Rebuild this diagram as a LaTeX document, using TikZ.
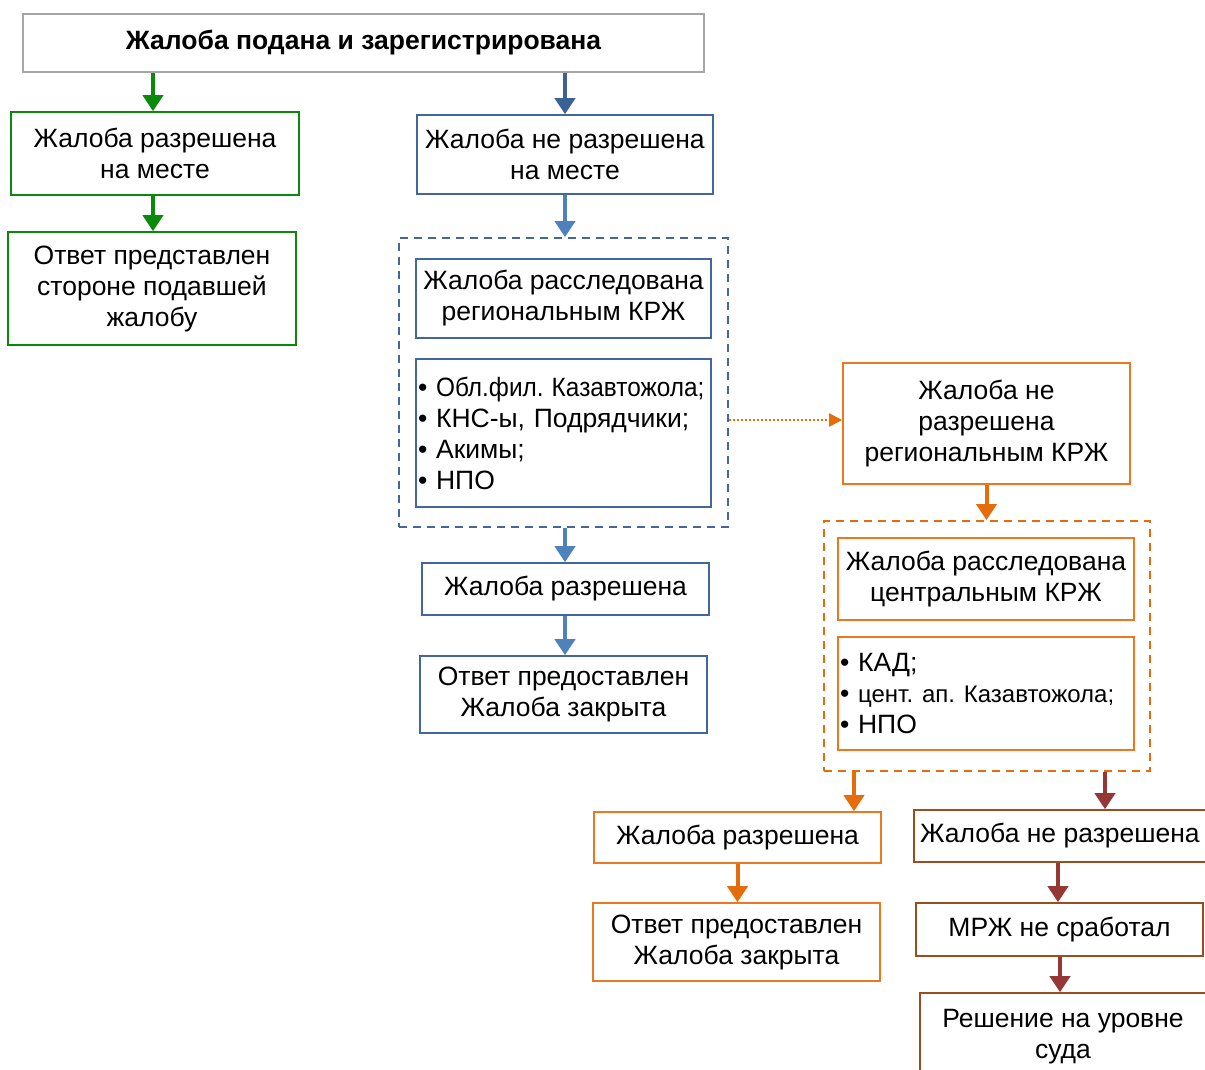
\documentclass[tikz,border=0pt]{standalone}
\usepackage{fontspec}
\usepackage{graphicx}
\setmainfont{Liberation Sans}
\usetikzlibrary{arrows.meta}
\frenchspacing
\definecolor{cgreen}{HTML}{0A8A0A}
\definecolor{cdblue}{HTML}{3C6195}
\definecolor{cblue}{HTML}{4F81BD}
\definecolor{cbborder}{HTML}{41679C}
\definecolor{corange}{HTML}{E46C0A}
\definecolor{coborder}{HTML}{EB7820}
\definecolor{cbrown}{HTML}{953735}
\definecolor{crborder}{HTML}{9A4E1E}
\definecolor{cgray}{HTML}{A6A6A6}
\tikzset{
  bx/.style={draw, line width=1.6pt, align=center, inner sep=0pt, text=black,
    font=\fontsize{26.5}{31}\selectfont\frenchspacing},
  gbox/.style={bx, draw=cgreen},
  bbox/.style={bx, draw=cbborder},
  obox/.style={bx, draw=coborder},
  rbox/.style={bx, draw=crborder},
  arr/.style={line width=4pt, -{Triangle[width=20pt,length=16pt]}},
  dbox/.style={draw, line width=1.8pt, dash pattern=on 8pt off 6pt, inner sep=0pt},
}
\begin{document}
\begin{tikzpicture}[x=1pt,y=-1pt]
\useasboundingbox (0,0) rectangle (1205,1070);
\clip (0,0) rectangle (1205,1070);
\fill[white] (0,0) rectangle (1205,1070);
% title
\node[bx, draw=cgray, minimum width=681pt, minimum height=58pt, font=\bfseries\fontsize{26.5}{31}\selectfont] (title) at (363.5,43) {Жалоба подана и зарегистрирована};
% green branch
\node[gbox, minimum width=288pt, minimum height=83pt] (g1) at (155,153.5) {Жалоба разрешена\\на месте};
\node[gbox, minimum width=288pt, minimum height=113pt] (g2) at (152,288.5) {Ответ представлен\\стороне подавшей\\жалобу};
% blue branch
\node[bbox, minimum width=296pt, minimum height=79pt] (b1) at (565,154.5) {Жалоба не разрешена\\на месте};
\node[dbox, draw=cbborder, minimum width=329pt, minimum height=289pt] (dashB) at (563.5,382.5) {};
\node[bbox, minimum width=295pt, minimum height=79pt] (b2) at (563.5,298.5) {Жалоба расследована\\региональным КРЖ};
\node[bbox, minimum width=295pt, minimum height=148pt, align=left, text width=291pt, inner xsep=2pt] (b3) at (563.5,433) {\mbox{\textbullet\ \scalebox{0.92}[1]{Обл.фил. Казавтожола;}}\\\mbox{\textbullet\ КНС-ы, Подрядчики;}\\\textbullet\ Акимы;\\\textbullet\ НПО};
\node[bbox, minimum width=287pt, minimum height=52pt] (b4) at (565.5,589) {Жалоба разрешена};
\node[bbox, minimum width=287pt, minimum height=77pt] (b5) at (563.5,694.5) {Ответ предоставлен\\Жалоба закрыта};
% orange branch
\node[obox, minimum width=287pt, minimum height=121pt] (o1) at (986.5,423.5) {Жалоба не\\разрешена\\региональным КРЖ};
\node[dbox, draw=corange, minimum width=326pt, minimum height=250pt] (dashO) at (987,646) {};
\node[obox, minimum width=296pt, minimum height=82pt] (o2) at (986,579) {Жалоба расследована\\центральным КРЖ};
\node[obox, minimum width=296pt, minimum height=113pt, align=left, text width=292pt, inner xsep=2pt] (o3) at (986,693.5) {\textbullet\ КАД;\\\mbox{\textbullet\ {\fontsize{24}{31}\selectfont цент. ап. Казавтожола;}}\\\textbullet\ НПО};
\node[obox, minimum width=287pt, minimum height=51pt] (o4) at (737.5,837.5) {Жалоба разрешена};
\node[obox, minimum width=287pt, minimum height=78pt] (o5) at (736.5,942) {Ответ предоставлен\\Жалоба закрыта};
% brown branch
\node[rbox, minimum width=292pt, minimum height=52pt] (r1) at (1060,836) {Жалоба не разрешена};
\node[rbox, minimum width=287pt, minimum height=53pt] (r2) at (1059.5,929.5) {МРЖ не сработал};
\node[rbox, minimum width=286pt, minimum height=87pt] (r3) at (1063,1036.5) {Решение на уровне\\суда};
% helper x positions
\coordinate (xg) at (153,0);
\coordinate (xb) at (565,0);
\coordinate (xo) at (854,0);
\coordinate (xr) at (1105,0);
\coordinate (xr2) at (1058,0);
\coordinate (xr3) at (1060,0);
% connectors
\draw[arr, cgreen] (title.south -| xg) -- (g1.north -| xg);
\draw[arr, cgreen] (g1.south -| xg) -- (g2.north -| xg);
\draw[arr, cdblue] (title.south -| xb) -- (b1.north -| xb);
\draw[arr, cblue] (b1.south -| xb) -- (dashB.north -| xb);
\draw[arr, cblue] (dashB.south -| xb) -- (b4.north -| xb);
\draw[arr, cblue] (b4.south -| xb) -- (b5.north -| xb);
\draw[line width=2pt, corange, dotted, -{Triangle[width=13pt,length=13pt]}] (dashB.east |- 0,420) -- (o1.west |- 0,420);
\draw[arr, corange] (o1.south) -- (dashO.north -| o1.south);
\draw[arr, corange] (dashO.south -| xo) -- (o4.north -| xo);
\draw[arr, corange] (o4.south) -- (o5.north -| o4.south);
\draw[arr, cbrown] (dashO.south -| xr) -- (r1.north -| xr);
\draw[arr, cbrown] (r1.south -| xr2) -- (r2.north -| xr2);
\draw[arr, cbrown] (r2.south -| xr3) -- (r3.north -| xr3);
\end{tikzpicture}
\end{document}
